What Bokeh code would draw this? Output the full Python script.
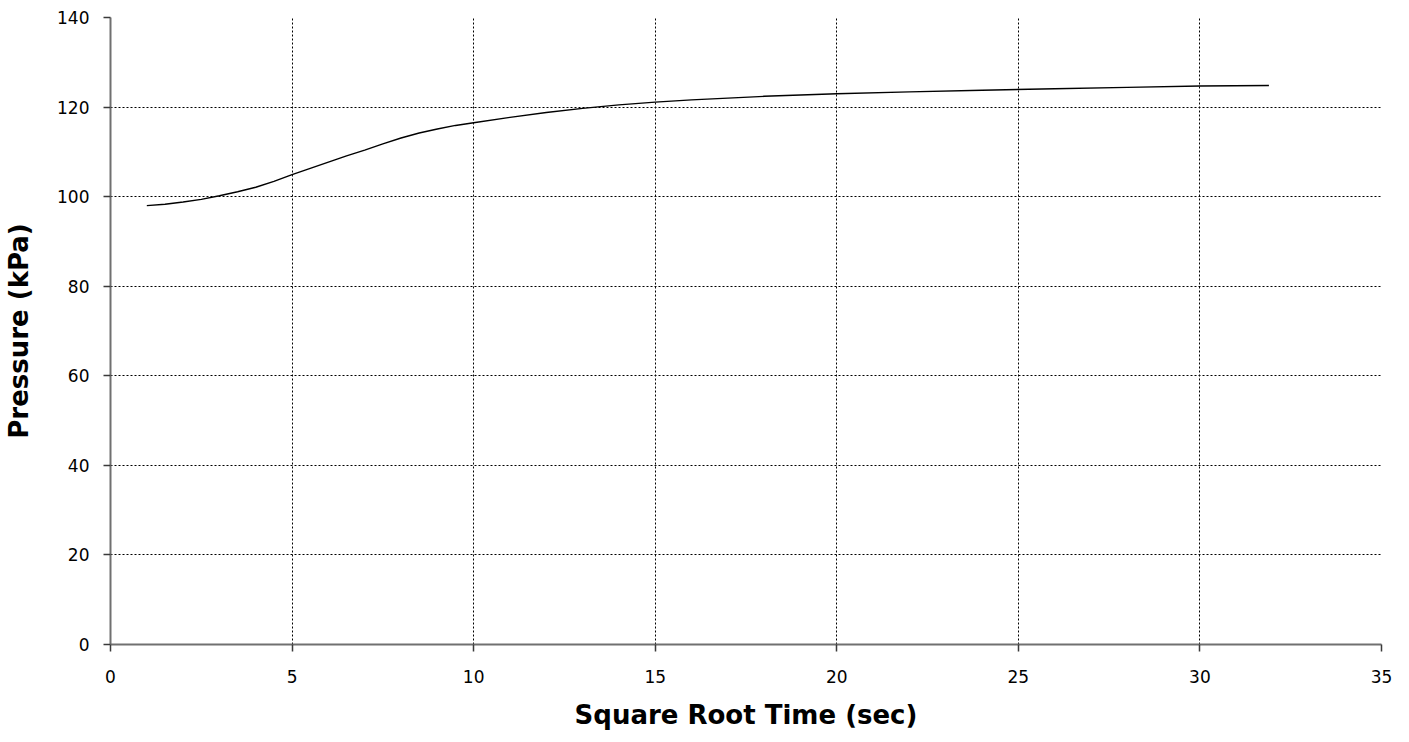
from bokeh.plotting import figure
from bokeh.models import Range1d, FixedTicker
from bokeh.embed import file_html
from bokeh.resources import INLINE

# Data (square root time in sec, pressure in kPa)
sqrt_time = [1.0, 1.5, 2.0, 2.5, 3.0, 3.5, 4.0, 4.5, 5.0, 5.5, 6.0, 6.5, 7.0, 7.5,
             8.0, 8.5, 9.0, 9.5, 10.0, 11.0, 12.0, 13.0, 14.0, 15.0, 16.0, 17.0,
             18.0, 19.0, 20.0, 22.0, 24.0, 26.0, 28.0, 30.0, 31.9]
pressure = [98.0, 98.3, 98.8, 99.4, 100.2, 101.1, 102.1, 103.4, 104.9, 106.3, 107.7,
            109.1, 110.4, 111.8, 113.1, 114.2, 115.1, 115.9, 116.5, 117.7, 118.8,
            119.7, 120.5, 121.1, 121.6, 122.0, 122.4, 122.7, 122.97, 123.4, 123.75,
            124.1, 124.4, 124.7, 124.8]

x_ticks = [0, 5, 10, 15, 20, 25, 30, 35]
y_ticks = [0, 20, 40, 60, 80, 100, 120, 140]

FONT = "DejaVu Sans"

p = figure(width=1393, height=734, output_backend="svg", toolbar_location=None,
           x_range=Range1d(0, 35), y_range=Range1d(0, 140),
           min_border_left=110, min_border_right=12, min_border_top=17,
           min_border_bottom=90)
p.outline_line_color = None
p.background_fill_color = "white"
p.border_fill_color = "white"

p.line(sqrt_time, pressure, line_color="black", line_width=1.4)

for ax, ticks in ((p.xaxis[0], x_ticks), (p.yaxis[0], y_ticks)):
    ax.ticker = FixedTicker(ticks=ticks)
    ax.axis_line_color = "#707070"
    ax.axis_line_width = 2
    ax.major_tick_line_color = "#3a3a3a"
    ax.major_tick_line_width = 1.5
    ax.major_tick_out = 7
    ax.major_tick_in = 0
    ax.minor_tick_line_color = None
    ax.major_label_text_font = FONT
    ax.major_label_text_font_size = "17px"
    ax.major_label_text_color = "black"
    ax.axis_label_text_font = FONT
    ax.axis_label_text_font_size = "26px"
    ax.axis_label_text_font_style = "bold"
    ax.axis_label_text_color = "black"

p.xaxis.axis_label = "Square Root Time (sec)"
p.yaxis.axis_label = "Pressure (kPa)"
p.xaxis.major_label_standoff = 18
p.yaxis.major_label_standoff = 14
p.xaxis.axis_label_standoff = 14
p.yaxis.axis_label_standoff = 20

for g in (p.xgrid[0], p.ygrid[0]):
    g.grid_line_color = "black"
    g.grid_line_alpha = 1.0
    g.grid_line_dash = "2 2"
    g.grid_line_width = 1
p.xgrid[0].ticker = FixedTicker(ticks=x_ticks)
p.ygrid[0].ticker = FixedTicker(ticks=y_ticks)

open("out.html", "w").write(file_html(p, INLINE))
